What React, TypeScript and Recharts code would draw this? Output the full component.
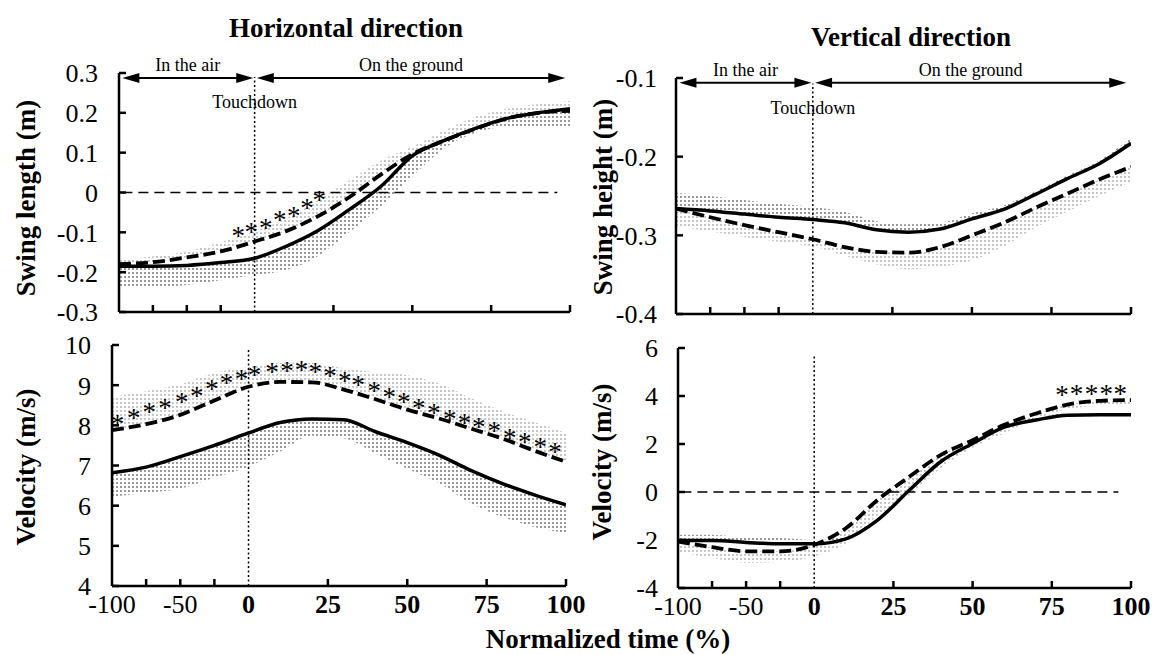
import React from 'react';
import {
  ComposedChart,
  Line,
  Area,
  Scatter,
  XAxis,
  YAxis,
  ReferenceLine,
} from 'recharts';

const SERIF = '"Liberation Serif", "Times New Roman", Times, serif';

// the air phase is drawn shorter than the ground phase on the time axis
const AIR = 0.43;

// normalized time (%) of the sampled points (air < 0 < ground)
const TIME = [-100, -75, -50, -25, 0, 10, 20, 30, 40, 50, 60, 70, 80, 90, 100];

// Horizontal direction – swing length (m)
const LEN_SOLID = [-0.185, -0.185, -0.183, -0.176, -0.165, -0.135, -0.096, -0.043, 0.015, 0.092, 0.13, 0.161, 0.186, 0.2, 0.21];
const LEN_DASHED = [-0.18, -0.175, -0.163, -0.148, -0.123, -0.097, -0.06, -0.012, 0.045, 0.096, 0.13, 0.16, 0.186, 0.2, 0.205];
const LEN_SOLID_SD = [-0.24, -0.238, -0.232, -0.22, -0.207, -0.195, -0.16, -0.1, -0.035, 0.04, 0.11, 0.15, 0.165, 0.167, 0.165];
const LEN_DASHED_SD = [-0.17, -0.16, -0.148, -0.125, -0.098, -0.065, -0.02, 0.03, 0.08, 0.115, 0.155, 0.19, 0.21, 0.222, 0.23];
const LEN_STAR_T = [-12, -2.4, 3.5, 8, 12.4, 16.6, 20.5];
const LEN_STAR_V = [-0.098, -0.09, -0.078, -0.06, -0.048, -0.028, -0.008];

// Vertical direction – swing height (m)
const HGT_SOLID = [-0.266, -0.269, -0.273, -0.277, -0.28, -0.284, -0.293, -0.296, -0.292, -0.279, -0.267, -0.248, -0.228, -0.209, -0.183];
const HGT_DASHED = [-0.266, -0.277, -0.287, -0.296, -0.305, -0.315, -0.321, -0.322, -0.315, -0.3, -0.284, -0.265, -0.247, -0.229, -0.213];
const HGT_SOLID_SD = [-0.246, -0.25, -0.255, -0.26, -0.264, -0.27, -0.282, -0.286, -0.284, -0.272, -0.262, -0.244, -0.224, -0.205, -0.176];
const HGT_DASHED_SD = [-0.288, -0.295, -0.302, -0.308, -0.314, -0.326, -0.337, -0.343, -0.34, -0.332, -0.314, -0.29, -0.27, -0.25, -0.232];

// Horizontal direction – velocity (m/s)
const VX_SOLID = [6.82, 6.96, 7.22, 7.5, 7.81, 8.07, 8.16, 8.14, 7.84, 7.57, 7.26, 6.88, 6.55, 6.27, 6.02];
const VX_DASHED = [7.88, 8.03, 8.26, 8.62, 8.96, 9.08, 9.07, 8.89, 8.65, 8.39, 8.17, 7.92, 7.67, 7.37, 7.09];
const VX_SOLID_SD = [6.22, 6.32, 6.42, 6.7, 6.97, 7.35, 7.74, 7.68, 7.3, 6.92, 6.56, 6.06, 5.72, 5.47, 5.32];
const VX_DASHED_SD = [8.71, 8.85, 9.02, 9.3, 9.45, 9.56, 9.55, 9.42, 9.32, 9.25, 9.05, 8.68, 8.35, 8.08, 7.81];
const VX_STAR_T = [-96, -84, -72.7, -61.2, -48.9, -38, -27, -16.1, -5.2, 1.9, 7.4, 12.1, 16.7, 21, 25.7, 30.3, 34.6, 39.6, 44.3, 48.9, 53.6, 58.4, 63.4, 68, 72.5, 77.4, 82.3, 87, 91.9, 96.5];
const VX_STAR_V = [8.13, 8.28, 8.42, 8.53, 8.67, 8.84, 9.0, 9.15, 9.25, 9.36, 9.42, 9.46, 9.48, 9.42, 9.34, 9.21, 9.11, 8.96, 8.81, 8.67, 8.53, 8.4, 8.26, 8.15, 8.07, 7.95, 7.79, 7.68, 7.55, 7.43];

// Vertical direction – velocity (m/s)
const VY_SOLID = [-2.02, -2.02, -2.1, -2.16, -2.16, -1.95, -1.17, 0.07, 1.27, 2.02, 2.7, 3.0, 3.2, 3.22, 3.22];
const VY_DASHED = [-2.06, -2.3, -2.47, -2.47, -2.2, -1.51, -0.33, 0.63, 1.55, 2.16, 2.8, 3.27, 3.64, 3.8, 3.83];
const VY_SOLID_SD = [-1.78, -1.78, -1.9, -1.92, -2.0, -1.85, -1.1, 0.15, 1.35, 2.1, 2.78, 3.08, 3.28, 3.3, 3.3];
const VY_DASHED_SD = [-2.48, -2.75, -2.95, -2.92, -2.68, -2.15, -1.0, -0.15, 1.0, 1.85, 2.45, 3.05, 3.45, 3.58, 3.6];
const VY_STAR_T = [78.2, 82.8, 87.5, 92.2, 96.6];
const VY_STAR_V = [4.2, 4.25, 4.27, 4.27, 4.27];

// axis ticks
const X_TICKS_T = [-100, -75, -50, -25, 0, 25, 50, 75, 100];
const X_LABELS_T = [-100, -50, 0, 25, 50, 75, 100];
const LEN_TICKS = [-0.3, -0.2, -0.1, 0, 0.1, 0.2, 0.3];
const HGT_TICKS = [-0.4, -0.3, -0.2, -0.1];
const VX_TICKS = [4, 5, 6, 7, 8, 9, 10];
const VY_TICKS = [-4, -2, 0, 2, 4, 6];

const toX = (t: number) => (t < 0 ? t * AIR : t);
const fromX = (x: number) => Math.round(x < 0 ? x / AIR : x);

function buildRows(solid: number[], dashed: number[], solidSd: number[], dashedSd: number[]) {
  return TIME.map((t, i) => ({
    x: toX(t),
    solid: solid[i],
    dashed: dashed[i],
    solidBand: [Math.min(solid[i], solidSd[i]), Math.max(solid[i], solidSd[i])],
    dashedBand: [Math.min(dashed[i], dashedSd[i]), Math.max(dashed[i], dashedSd[i])],
  }));
}

function buildStars(ts: number[], vs: number[]) {
  return ts.map((t, i) => ({ x: toX(t), v: vs[i] }));
}

const YTick = (props: any) => {
  const { x, y, payload, gap } = props;
  const label = String(Number(Number(payload.value).toFixed(2)));
  return (
    <g>
      <line x1={x} y1={y} x2={x + 7} y2={y} stroke="#000" strokeWidth={2.5} />
      <text x={x - gap} y={y} dy="0.36em" textAnchor="end" fontSize={26} fontFamily={SERIF} fill="#000">
        {label}
      </text>
    </g>
  );
};

const XTick = (props: any) => {
  const { x, y, payload, showLabels } = props;
  const t = fromX(payload.value);
  const hasLabel = showLabels && X_LABELS_T.includes(t);
  return (
    <g>
      {t !== 0 && t !== -100 && (
        <line x1={x} y1={y} x2={x} y2={y - 7} stroke="#000" strokeWidth={2.5} />
      )}
      {hasLabel && (
        <text
          x={x}
          y={y + 27}
          textAnchor="middle"
          fontSize={26}
          fontWeight={t >= 0 ? 'bold' : 'normal'}
          fontFamily={SERIF}
          fill="#000"
        >
          {String(t)}
        </text>
      )}
    </g>
  );
};

// double headed arrow drawn on a reference segment
const ArrowShape = (props: any) => {
  const { x1, y1, x2, y2 } = props;
  const len = 17;
  const half = 5;
  return (
    <g>
      <line x1={x1 + len - 2} y1={y1} x2={x2 - len + 2} y2={y2} stroke="#000" strokeWidth={2} />
      <polygon points={`${x1},${y1} ${x1 + len},${y1 - half} ${x1 + len},${y1 + half}`} fill="#000" />
      <polygon points={`${x2},${y2} ${x2 - len},${y2 - half} ${x2 - len},${y2 + half}`} fill="#000" />
    </g>
  );
};

const Star = (props: any) => {
  const { cx, cy } = props;
  return (
    <text x={cx} y={cy + 13} textAnchor="middle" fontSize={27} fontFamily={SERIF} fill="#000">
      *
    </text>
  );
};

interface PanelProps {
  id: string;
  left: number;
  top: number;
  width: number;
  height: number;
  yWidth: number;
  rightMargin: number;
  topMargin: number;
  xHeight: number;
  rows: any[];
  stars?: { x: number; v: number }[];
  yDomain: [number, number];
  yTicks: number[];
  yGap: number;
  showXLabels: boolean;
  touchTop: number;
  arrowY?: number;
  zeroLine?: boolean;
}

function Panel(p: PanelProps) {
  const lbl = { fontSize: 18, fontFamily: SERIF, fill: '#000' };
  return (
    <div style={{ position: 'absolute', left: p.left, top: p.top }}>
      <ComposedChart
        width={p.width}
        height={p.height}
        data={p.rows}
        margin={{ top: p.topMargin, right: p.rightMargin, bottom: 0, left: 0 }}
      >
        <defs>
          <pattern id={`dark-${p.id}`} width={4} height={4} patternUnits="userSpaceOnUse">
            <rect x={0} y={0} width={2} height={2} fill="#999" />
          </pattern>
          <pattern id={`light-${p.id}`} width={4} height={4} patternUnits="userSpaceOnUse">
            <rect x={0} y={0} width={2} height={2} fill="#c6c6c6" />
          </pattern>
        </defs>
        <XAxis
          type="number"
          dataKey="x"
          domain={[toX(-100), 100]}
          ticks={X_TICKS_T.map(toX)}
          interval={0}
          allowDataOverflow
          height={p.xHeight}
          tickSize={0}
          tickMargin={0}
          tickLine={false}
          axisLine={{ stroke: '#000', strokeWidth: 2.5 }}
          tick={(tp: any) => <XTick {...tp} showLabels={p.showXLabels} />}
        />
        <YAxis
          type="number"
          domain={p.yDomain}
          ticks={p.yTicks}
          interval={0}
          allowDataOverflow
          width={p.yWidth}
          tickSize={0}
          tickMargin={0}
          tickLine={false}
          axisLine={{ stroke: '#000', strokeWidth: 2.5 }}
          tick={(tp: any) => <YTick {...tp} gap={p.yGap} />}
        />
        <Area
          type="monotone"
          dataKey="dashedBand"
          stroke="none"
          fill={`url(#light-${p.id})`}
          fillOpacity={1}
          isAnimationActive={false}
        />
        <Area
          type="monotone"
          dataKey="solidBand"
          stroke="none"
          fill={`url(#dark-${p.id})`}
          fillOpacity={1}
          isAnimationActive={false}
        />
        {p.zeroLine && (
          <ReferenceLine
            segment={[{ x: toX(-97.5), y: 0 }, { x: 96, y: 0 }]}
            stroke="#000"
            strokeWidth={1.5}
            strokeDasharray="10 6"
          />
        )}
        <ReferenceLine
          segment={[{ x: 0, y: p.yDomain[0] }, { x: 0, y: p.touchTop }]}
          stroke="#000"
          strokeWidth={1.5}
          strokeDasharray="2 2.5"
          label={p.arrowY !== undefined ? { value: 'Touchdown', position: 'insideTop', offset: 18, ...lbl } : undefined}
        />
        {p.arrowY !== undefined && (
          <ReferenceLine
            segment={[{ x: toX(-97.5), y: p.arrowY }, { x: toX(-1), y: p.arrowY }]}
            shape={ArrowShape}
            label={{ value: 'In the air', position: 'top', offset: 7, ...lbl }}
          />
        )}
        {p.arrowY !== undefined && (
          <ReferenceLine
            segment={[{ x: 0.7, y: p.arrowY }, { x: 98.5, y: p.arrowY }]}
            shape={ArrowShape}
            label={{ value: 'On the ground', position: 'top', offset: 7, ...lbl }}
          />
        )}
        <Line
          type="monotone"
          dataKey="solid"
          stroke="#000"
          strokeWidth={3.5}
          dot={false}
          isAnimationActive={false}
        />
        <Line
          type="monotone"
          dataKey="dashed"
          stroke="#000"
          strokeWidth={3.8}
          strokeDasharray="12 5"
          dot={false}
          isAnimationActive={false}
        />
        {p.stars && (
          <Scatter data={p.stars} dataKey="v" shape={Star} isAnimationActive={false} />
        )}
      </ComposedChart>
    </div>
  );
}

export default function App() {
  const rowsLen = buildRows(LEN_SOLID, LEN_DASHED, LEN_SOLID_SD, LEN_DASHED_SD);
  const rowsHgt = buildRows(HGT_SOLID, HGT_DASHED, HGT_SOLID_SD, HGT_DASHED_SD);
  const rowsVx = buildRows(VX_SOLID, VX_DASHED, VX_SOLID_SD, VX_DASHED_SD);
  const rowsVy = buildRows(VY_SOLID, VY_DASHED, VY_SOLID_SD, VY_DASHED_SD);

  const bold = { fontFamily: SERIF, fontWeight: 'bold' as const, fill: '#000' };

  return (
    <div style={{ position: 'absolute', left: 0, top: 0, width: 1154, height: 655, background: '#fff' }}>
      <Panel
        id="tl"
        left={0}
        top={0}
        width={600}
        height={330}
        yWidth={119}
        rightMargin={30}
        topMargin={73}
        xHeight={18}
        rows={rowsLen}
        stars={buildStars(LEN_STAR_T, LEN_STAR_V)}
        yDomain={[-0.3, 0.3]}
        yTicks={LEN_TICKS}
        yGap={21}
        showXLabels={false}
        touchTop={0.29}
        arrowY={0.2875}
        zeroLine
      />
      <Panel
        id="tr"
        left={580}
        top={0}
        width={574}
        height={330}
        yWidth={96}
        rightMargin={23}
        topMargin={78}
        xHeight={16}
        rows={rowsHgt}
        yDomain={[-0.4, -0.1]}
        yTicks={HGT_TICKS}
        yGap={19}
        showXLabels={false}
        touchTop={-0.107}
        arrowY={-0.106}
      />
      <Panel
        id="bl"
        left={0}
        top={330}
        width={600}
        height={325}
        yWidth={112}
        rightMargin={34}
        topMargin={15}
        xHeight={69}
        rows={rowsVx}
        stars={buildStars(VX_STAR_T, VX_STAR_V)}
        yDomain={[4, 10]}
        yTicks={VX_TICKS}
        yGap={21}
        showXLabels
        touchTop={9.88}
      />
      <Panel
        id="br"
        left={580}
        top={330}
        width={574}
        height={325}
        yWidth={98}
        rightMargin={23}
        topMargin={18}
        xHeight={67}
        rows={rowsVy}
        stars={buildStars(VY_STAR_T, VY_STAR_V)}
        yDomain={[-4, 6]}
        yTicks={VY_TICKS}
        yGap={20}
        showXLabels
        touchTop={5.7}
        zeroLine
      />
      <svg
        width={1154}
        height={655}
        style={{ position: 'absolute', left: 0, top: 0, pointerEvents: 'none' }}
      >
        <text x={346} y={37} textAnchor="middle" fontSize={27} {...bold}>Horizontal direction</text>
        <text x={911} y={46} textAnchor="middle" fontSize={27} {...bold}>Vertical direction</text>
        <text x={35} y={198} textAnchor="middle" fontSize={27} transform="rotate(-90 35 198)" {...bold}>
          Swing length (m)
        </text>
        <text x={612} y={197} textAnchor="middle" fontSize={27} transform="rotate(-90 612 197)" {...bold}>
          Swing height (m)
        </text>
        <text x={35} y={467} textAnchor="middle" fontSize={27} transform="rotate(-90 35 467)" {...bold}>
          Velocity (m/s)
        </text>
        <text x={611} y={462} textAnchor="middle" fontSize={27} transform="rotate(-90 611 462)" {...bold}>
          Velocity (m/s)
        </text>
        <text x={608} y={648} textAnchor="middle" fontSize={27} {...bold}>Normalized time (%)</text>
      </svg>
    </div>
  );
}
